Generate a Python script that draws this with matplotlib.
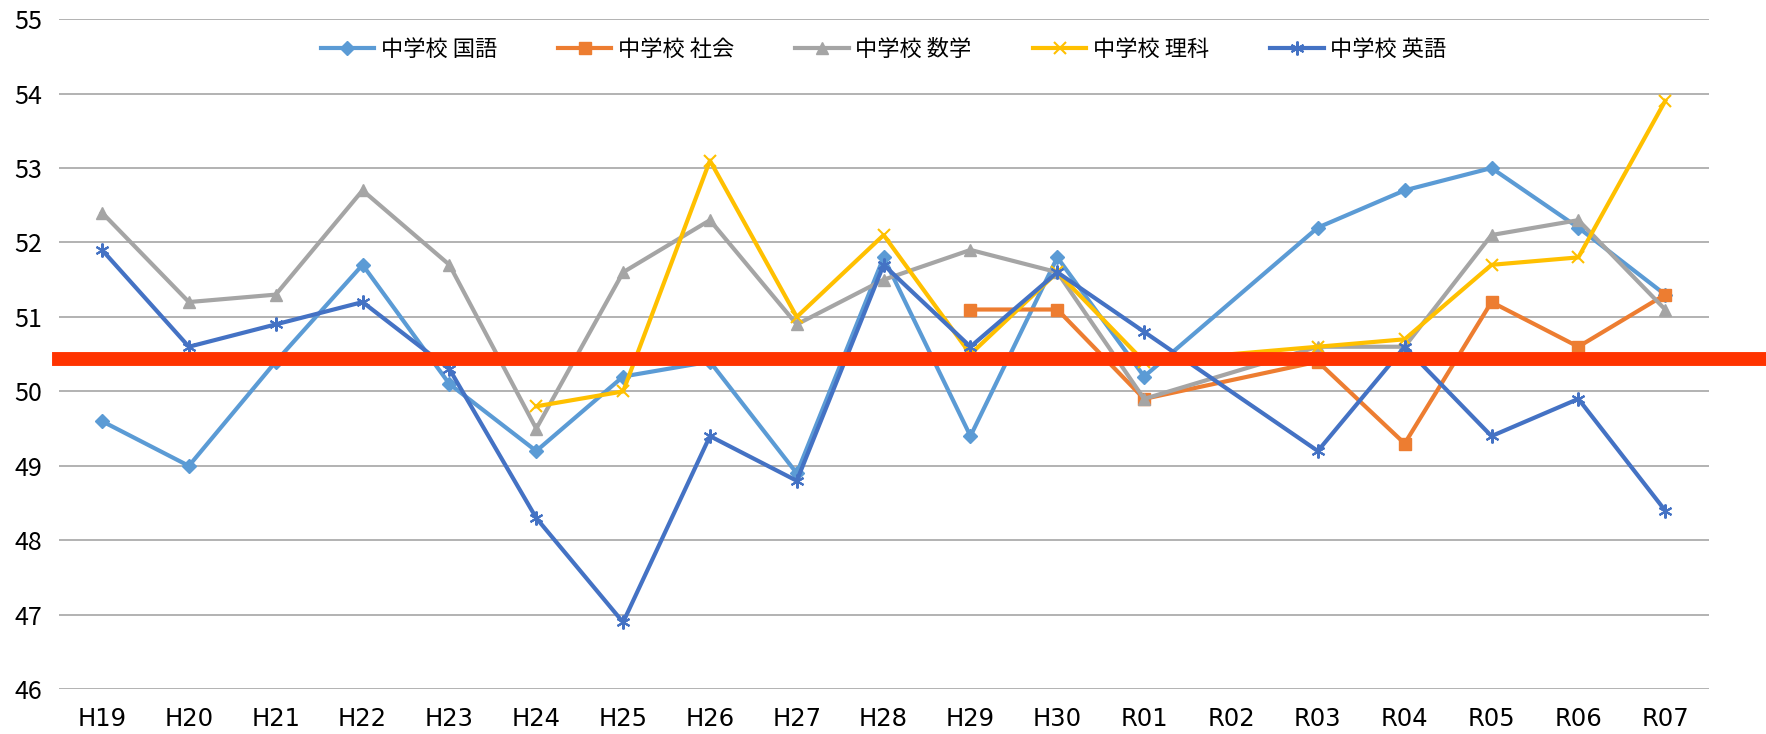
import numpy as np
import matplotlib
matplotlib.use("Agg")
import matplotlib.pyplot as plt

plt.rcParams['font.family'] = ['Noto Sans CJK JP', 'DejaVu Sans']

nan = np.nan
years = ['H19', 'H20', 'H21', 'H22', 'H23', 'H24', 'H25', 'H26', 'H27', 'H28',
         'H29', 'H30', 'R01', 'R02', 'R03', 'R04', 'R05', 'R06', 'R07']

kokugo = [49.6, 49.0, 50.4, 51.7, 50.1, 49.2, 50.2, 50.4, 48.9, 51.8,
          49.4, 51.8, 50.2, nan, 52.2, 52.7, 53.0, 52.2, 51.3]
shakai = [nan, nan, nan, nan, nan, nan, nan, nan, nan, nan,
          51.1, 51.1, 49.9, nan, 50.4, 49.3, 51.2, 50.6, 51.3]
sugaku = [52.4, 51.2, 51.3, 52.7, 51.7, 49.5, 51.6, 52.3, 50.9, 51.5,
          51.9, 51.6, 49.9, nan, 50.6, 50.6, 52.1, 52.3, 51.1]
rika = [nan, nan, nan, nan, nan, 49.8, 50.0, 53.1, 51.0, 52.1,
        50.5, 51.6, 50.4, nan, 50.6, 50.7, 51.7, 51.8, 53.9]
eigo = [51.9, 50.6, 50.9, 51.2, 50.3, 48.3, 46.9, 49.4, 48.8, 51.7,
        50.6, 51.6, 50.8, nan, 49.2, 50.6, 49.4, 49.9, 48.4]

labels = ['中学校 国語', '中学校 社会', '中学校 数学', '中学校 理科', '中学校 英語']
colors = ['#5B9BD5', '#ED7D31', '#A5A5A5', '#FFC000', '#4472C4']
markers = ['D', 's', '^', 'x', (6, 2, 0)]
msizes = [7, 9, 9, 9, 10]

ref_value = 50.43

fig = plt.figure(figsize=(17.66, 7.34), dpi=100)
ax = fig.add_axes([0.0332, 0.0609, 0.9343, 0.9131])

x = np.arange(len(years))
for vals, lab, c, m, ms in zip([kokugo, shakai, sugaku, rika, eigo], labels, colors, markers, msizes):
    v = np.array(vals, dtype=float)
    ok = ~np.isnan(v)
    ax.plot(x[ok], v[ok], color=c, lw=3, marker=m, markersize=ms,
            markeredgewidth=1.5 if m in ('x',) or isinstance(m, tuple) else 1,
            markerfacecolor=c, markeredgecolor=c, label=lab, zorder=3)

# reference line runs past the plot area to the right edge
ax.axhline(ref_value, xmin=0.0, xmax=(1766 - 58.6) / (1708.6 - 58.6),
           color='#FF3300', lw=10, clip_on=False, zorder=5)

ax.set_xlim(-0.5, len(years) - 0.5)
ax.set_ylim(46, 55)
ax.set_yticks(range(46, 56))
ax.set_xticks(x)
ax.set_xticklabels(years, family='DejaVu Sans', fontsize=17.5)
ax.yaxis.grid(True, color='#A6A6A6', lw=1.2)
ax.set_axisbelow(True)
for s in ax.spines.values():
    s.set_visible(False)
ax.tick_params(axis='both', length=0, colors='black')
ax.tick_params(axis='y', pad=12, labelsize=18)
ax.tick_params(axis='x', pad=13)

ax.legend(loc='upper center', bbox_to_anchor=(0.5, 1.005), ncol=5, frameon=False,
          fontsize=16, handlelength=2.4, columnspacing=2.75, handletextpad=0.3,
          borderaxespad=0.6)

fig.savefig('out.png', dpi=100)
